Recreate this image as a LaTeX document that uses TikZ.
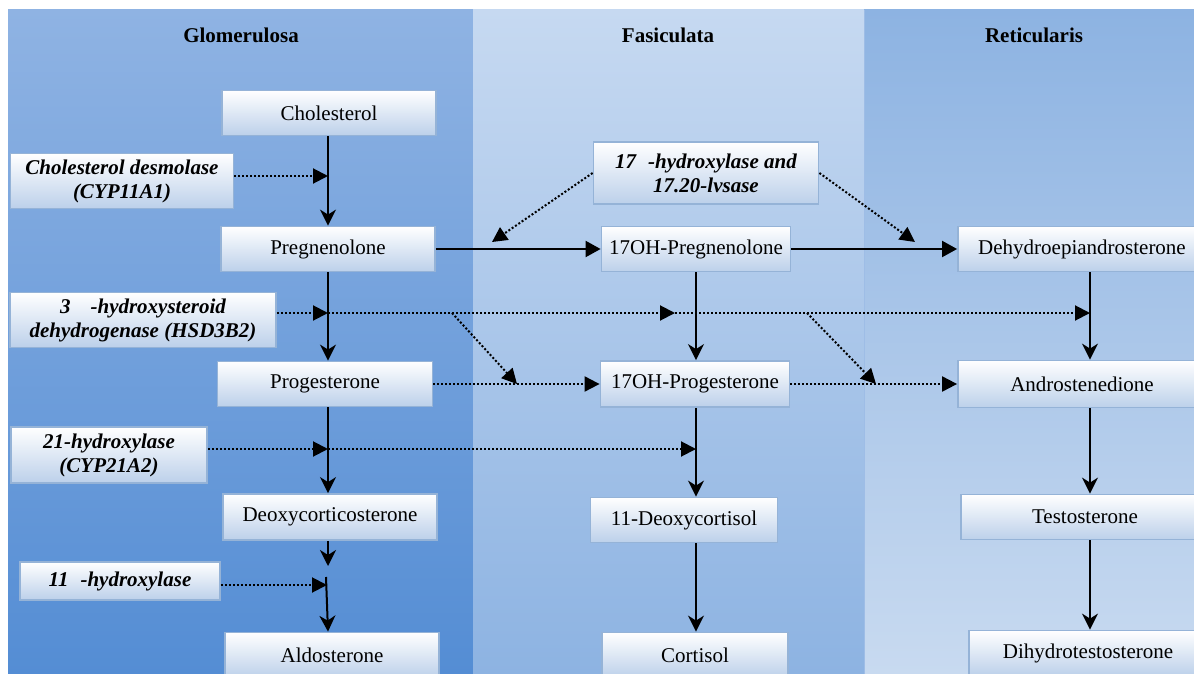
\documentclass[tikz,border=0pt]{standalone}
\usepackage{fontspec}
\setmainfont{Liberation Serif}
\usetikzlibrary{arrows.meta}

\definecolor{glomtop}{HTML}{8FB3E3}
\definecolor{glombot}{HTML}{548DD4}
\definecolor{fasctop}{HTML}{C6D9F1}
\definecolor{fascbot}{HTML}{8DB3E2}
\definecolor{rettop}{HTML}{8DB3E2}
\definecolor{retbot}{HTML}{C8DAF0}
\definecolor{boxbot}{HTML}{BCD0EA}
\definecolor{boxline}{HTML}{95B3D7}
\definecolor{zoneline}{HTML}{9EBDE6}

\tikzset{
	zone/.style={font=\fontsize{10.5}{12}\selectfont\bfseries},
	compound/.style={draw=boxline, line width=0.9pt, top color=white, bottom color=boxbot,
		minimum height=22.5pt, inner sep=0pt, font=\fontsize{10.5}{12}\selectfont},
	enzyme/.style={compound, align=center, font=\fontsize{10.5}{12}\selectfont\bfseries\itshape},
	conv/.style={-{Stealth[length=8pt,width=8pt,inset=2.5pt]}, line width=1pt},
	flow/.style={-{Triangle[length=7.5pt,width=8pt]}, line width=1pt},
	cat/.style={-{Triangle[length=7.5pt,width=7.5pt]}, line width=1pt, dash pattern=on 1pt off 1pt},
}

\begin{document}
\begin{tikzpicture}[x=0.5pt,y=-0.5pt]
			\useasboundingbox (0,0) rectangle (1194,674);
			\clip (0,0) rectangle (1194,674);
			\shade[top color=glomtop, bottom color=glombot] (8,10) rectangle (473,674);
			\shade[top color=fasctop, bottom color=fascbot] (473,10) rectangle (864,674);
			\shade[top color=rettop, bottom color=retbot] (864,10) rectangle (1194,674);
			\draw[zoneline, line width=0.5pt] (864,10) -- (864,674);

			\node[zone] (glom) at (241,35) {Glomerulosa};
			\node[zone] (fasc) at (668,35) {Fasiculata};
			\node[zone] (ret) at (1034,35) {Reticularis};

			\node[compound, minimum width=107pt] (chol) at (329,113) {Cholesterol};
			\node[enzyme, minimum width=111.5pt, minimum height=27.5pt] (desm) at (122,181) {Cholesterol desmolase\\(CYP11A1)};
			\node[compound, minimum width=107pt] (preg) at (328,249) {Pregnenolone};
			\node[enzyme, minimum width=133pt, minimum height=27.5pt] (hsd) at (143,320) {3\hspace*{10pt}-hydroxysteroid\\dehydrogenase (HSD3B2)};
			\node[compound, minimum width=107.5pt] (prog) at (325,384) {Progesterone};
			\node[enzyme, minimum width=98pt, minimum height=28pt] (cyp21) at (109,455) {21-hydroxylase\\(CYP21A2)};
			\node[compound, minimum width=107pt, minimum height=23pt] (doc) at (330,517) {Deoxycorticosterone};
			\node[enzyme, minimum width=100pt, minimum height=19pt] (cyp11b) at (120,581) {11\hspace*{6pt}-hydroxylase};
			\node[compound, minimum width=107pt] (aldo) at (332,655) {Aldosterone};

			\node[enzyme, minimum width=112.5pt, minimum height=31pt] (cyp17) at (706,173) {17\hspace*{6pt}-hydroxylase and\\17.20-lvsase};
			\node[compound, minimum width=94.5pt] (ohpreg) at (696,249) {17OH-Pregnenolone};
			\node[compound, minimum width=94.5pt, minimum height=23pt] (ohprog) at (695,384) {17OH-Progesterone};
			\node[compound, minimum width=93.5pt] (doxcort) at (684,520) {11-Deoxycortisol};
			\node[compound, minimum width=93pt] (cort) at (695,655) {Cortisol};

			\node[compound, minimum width=124pt] (dhea) at (1082,249) {Dehydroepiandrosterone};
			\node[compound, minimum width=124pt, minimum height=23.5pt] (andro) at (1082,384) {Androstenedione};
			\node[compound, minimum width=124pt] (testo) at (1085,517) {Testosterone};
			\node[compound, minimum width=119pt] (dht) at (1088,653) {Dihydrotestosterone};

			\coordinate (colA) at (328,0);
			\coordinate (colB) at (696,0);
			\coordinate (colC) at (1090,0);
			\coordinate (d1) at (328,566);
			\coordinate (d2) at (326,577);

			\draw[conv] (chol.south -| colA) -- (preg.north -| colA);
			\draw[conv] (preg.south -| colA) -- (prog.north -| colA);
			\draw[conv] (prog.south -| colA) -- (doc.north -| colA);
			\draw[conv] (doc.south -| colA) -- (d1);
			\draw[conv] (d2) -- (aldo.north -| colA);
			\draw[conv] (ohpreg.south -| colB) -- (ohprog.north -| colB);
			\draw[conv] (ohprog.south -| colB) -- (doxcort.north -| colB);
			\draw[conv] (doxcort.south -| colB) -- (cort.north -| colB);
			\draw[conv] (dhea.south -| colC) -- (andro.north -| colC);
			\draw[conv] (andro.south -| colC) -- (testo.north -| colC);
			\draw[conv] (testo.south -| colC) -- (dht.north -| colC);
			\draw[flow] (preg.east) -- (ohpreg.west);
			\draw[flow] (ohpreg.east) -- (dhea.west);

			\coordinate (k1) at (328,176);
			\coordinate (h1) at (328,313);
			\coordinate (h2) at (675,313);
			\coordinate (h3) at (1090,313);
			\coordinate (b1) at (452,313);
			\coordinate (b2) at (807,313);
			\coordinate (p1) at (517,384);
			\coordinate (p2) at (876,384);
			\coordinate (t1) at (328,449);
			\coordinate (t2) at (696,449);
			\coordinate (e1) at (327,585);
			\coordinate (a1) at (492,242);
			\coordinate (a2) at (915,242);

			\draw[cat] (desm.east |- k1) -- (k1);
			\draw[cat] (hsd.east |- h1) -- (h1);
			\draw[cat] (h1) -- (h2);
			\draw[cat] (h2) -- (h3);
			\draw[cat] (b1) -- (p1);
			\draw[cat] (b2) -- (p2);
			\draw[cat] (prog.east) -- (ohprog.west);
			\draw[cat] (ohprog.east) -- (andro.west);
			\draw[cat] (cyp21.east |- t1) -- (t1);
			\draw[cat] (t1) -- (t2);
			\draw[cat] (cyp11b.east |- e1) -- (e1);
			\draw[cat] (cyp17.west) -- (a1);
			\draw[cat] (cyp17.east) -- (a2);
		\end{tikzpicture}
\end{document}
